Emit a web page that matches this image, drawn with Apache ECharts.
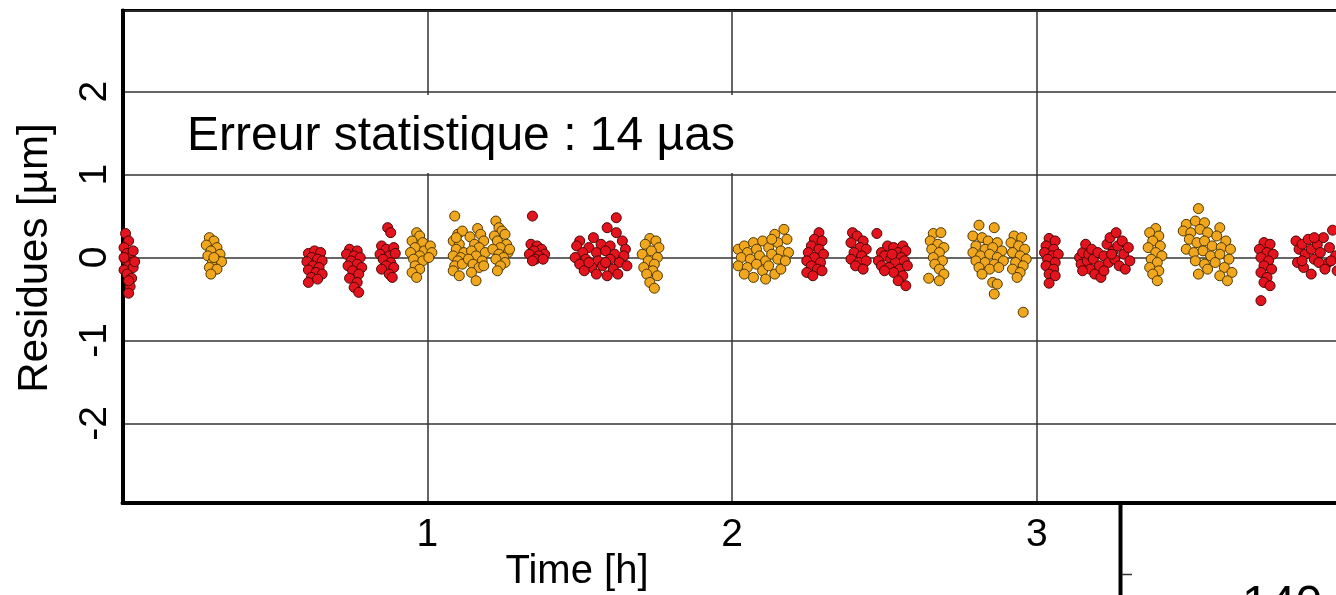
<!DOCTYPE html>
<html>
<head>
<meta charset="utf-8">
<script src="https://cdn.jsdelivr.net/npm/echarts@6/dist/echarts.min.js"></script>
<style>
html,body{margin:0;padding:0;background:#fff;}
#c{width:1336px;height:595px;}
</style>
</head>
<body>
<div id="c"></div>
<script>
// Residuals [µm] versus time [h]
const redResiduals = [
  // 0.00 - 0.05 h
  [0.01,0.29],[0.02,0.2],[0.005,0.12],[0.015,0.05],[0.025,0.0],[0.01,-0.03],[0.03,-0.06],[0.02,-0.1],[0.005,-0.15],[0.035,-0.12],[0.015,-0.2],[0.03,-0.25],[0.025,-0.35],[0.02,-0.43],[0.04,-0.05],[0.035,0.08],[0.005,0.0],[0.02,-0.28],
  // 0.60 - 0.66 h
  [0.61,0.05],[0.63,0.08],[0.65,0.06],[0.62,0.0],[0.64,-0.02],[0.605,-0.05],[0.655,-0.04],[0.625,-0.1],[0.645,-0.12],[0.61,-0.15],[0.635,-0.18],[0.655,-0.2],[0.62,-0.24],[0.61,-0.3],[0.64,-0.26],
  // 0.73 - 0.79 h
  [0.745,0.1],[0.77,0.08],[0.735,0.04],[0.76,0.02],[0.78,0.0],[0.75,-0.04],[0.77,-0.08],[0.74,-0.1],[0.785,-0.12],[0.755,-0.16],[0.775,-0.2],[0.745,-0.25],[0.77,-0.3],[0.76,-0.36],[0.775,-0.42],
  // 0.84 - 0.90 h
  [0.87,0.36],[0.88,0.3],[0.85,0.14],[0.865,0.1],[0.89,0.12],[0.845,0.04],[0.875,0.02],[0.895,0.05],[0.855,-0.02],[0.88,-0.06],[0.865,-0.1],[0.89,-0.12],[0.85,-0.14],[0.875,-0.2],[0.885,-0.24],
  // 1.33 - 1.40 h
  [1.345,0.5],[1.34,0.16],[1.36,0.14],[1.375,0.1],[1.35,0.08],[1.385,0.04],[1.335,0.04],[1.365,0.02],[1.355,-0.02],[1.38,-0.02],[1.345,-0.04],
  // 1.48 - 1.66 h
  [1.62,0.48],[1.59,0.36],[1.62,0.3],[1.545,0.24],[1.5,0.2],[1.64,0.2],[1.49,0.14],[1.53,0.12],[1.57,0.16],[1.6,0.14],[1.65,0.1],[1.51,0.06],[1.555,0.06],[1.585,0.08],[1.615,0.04],[1.645,0.02],[1.485,0.0],[1.52,-0.02],[1.56,-0.04],[1.6,-0.02],[1.63,-0.06],[1.5,-0.08],[1.54,-0.12],[1.575,-0.1],[1.61,-0.14],[1.655,-0.1],[1.515,-0.16],[1.555,-0.2],[1.59,-0.22],[1.625,-0.2],[1.53,-0.06],[1.585,-0.06],
  // 2.24 - 2.31 h
  [2.285,0.3],[2.27,0.22],[2.295,0.2],[2.26,0.14],[2.285,0.1],[2.25,0.06],[2.3,0.04],[2.27,0.0],[2.245,-0.04],[2.29,-0.06],[2.26,-0.1],[2.28,-0.14],[2.245,-0.18],[2.265,-0.22],[2.295,-0.16],
  // 2.38 - 2.45 h
  [2.395,0.3],[2.41,0.26],[2.43,0.2],[2.39,0.18],[2.42,0.12],[2.44,0.1],[2.4,0.06],[2.425,0.02],[2.39,-0.02],[2.415,-0.06],[2.44,-0.04],[2.405,-0.1],[2.43,-0.14],
  // 2.46 - 2.58 h
  [2.475,0.29],[2.49,0.06],[2.51,0.14],[2.53,0.12],[2.56,0.14],[2.545,0.06],[2.57,0.08],[2.5,0.02],[2.52,-0.02],[2.555,0.0],[2.48,-0.04],[2.535,-0.06],[2.565,-0.04],[2.49,-0.1],[2.515,-0.12],[2.55,-0.14],[2.575,-0.1],[2.53,-0.18],[2.56,-0.22],[2.5,-0.16],[2.545,-0.28],[2.57,-0.34],[2.525,0.04],
  // 3.02 - 3.08 h
  [3.04,0.23],[3.06,0.2],[3.03,0.14],[3.055,0.1],[3.025,0.06],[3.05,0.02],[3.07,0.04],[3.035,-0.02],[3.06,-0.06],[3.03,-0.1],[3.055,-0.14],[3.04,-0.2],[3.06,-0.22],[3.04,-0.31],
  // 3.13 - 3.31 h
  [3.14,0.0],[3.145,-0.08],[3.15,0.06],[3.16,0.16],[3.165,-0.04],[3.17,0.04],[3.175,-0.14],[3.18,0.1],[3.185,-0.02],[3.19,-0.2],[3.2,0.06],[3.205,-0.1],[3.21,-0.24],[3.22,0.02],[3.23,0.16],[3.235,-0.06],[3.24,0.24],[3.25,0.08],[3.255,-0.02],[3.26,0.3],[3.265,0.14],[3.27,-0.1],[3.28,0.2],[3.285,0.04],[3.29,-0.14],[3.3,0.12],[3.305,-0.04],[3.22,-0.16],[3.15,-0.16],[3.245,0.04],
  // 3.72 - 3.79 h
  [3.745,0.18],[3.765,0.16],[3.73,0.1],[3.755,0.06],[3.775,0.04],[3.735,0.0],[3.76,-0.04],[3.745,-0.1],[3.77,-0.14],[3.735,-0.18],[3.755,-0.24],[3.745,-0.3],[3.765,-0.34],[3.735,-0.52],
  // 3.84 h onward
  [3.85,0.2],[3.86,0.1],[3.87,0.16],[3.88,0.04],[3.89,0.22],[3.9,0.1],[3.91,-0.02],[3.92,0.16],[3.93,0.06],[3.94,0.24],[3.95,-0.08],[3.96,0.12],[3.97,0.33],[3.98,0.02],[3.855,-0.06],[3.875,-0.12],[3.9,-0.2],[3.925,-0.06],[3.945,-0.14],[3.965,-0.04],[3.985,-0.16],[3.87,-0.04],[3.91,0.24]
];

const goldResiduals = [
  // 0.27 - 0.33 h
  [0.285,0.24],[0.3,0.2],[0.275,0.15],[0.31,0.12],[0.29,0.08],[0.32,0.04],[0.28,0.02],[0.305,-0.02],[0.295,-0.06],[0.325,-0.05],[0.285,-0.12],[0.31,-0.14],[0.29,-0.2],[0.3,0.0],
  // 0.94 - 1.03 h
  [0.965,0.3],[0.975,0.26],[0.95,0.2],[0.985,0.18],[0.96,0.12],[0.99,0.08],[0.945,0.06],[0.975,0.02],[0.955,-0.02],[0.985,-0.04],[0.96,-0.1],[0.975,-0.14],[0.95,-0.18],[0.965,-0.24],[1.01,0.14],[1.015,0.06],[1.005,0.0],
  // 1.08 - 1.13 h
  [1.09,0.5],[1.1,0.28],[1.115,0.32],[1.085,0.2],[1.105,0.16],[1.095,0.1],[1.12,0.06],[1.085,0.02],[1.11,0.0],[1.1,-0.04],[1.09,-0.1],[1.115,-0.08],[1.085,-0.16],[1.105,-0.22],[1.095,0.24],
  // 1.13 - 1.20 h
  [1.165,0.35],[1.175,0.28],[1.14,0.25],[1.185,0.2],[1.155,0.16],[1.17,0.12],[1.145,0.08],[1.19,0.06],[1.16,0.02],[1.135,-0.02],[1.18,-0.04],[1.15,-0.08],[1.17,-0.12],[1.145,-0.18],[1.16,-0.28],[1.185,-0.1],
  // 1.21 - 1.28 h
  [1.225,0.44],[1.235,0.36],[1.245,0.32],[1.22,0.26],[1.255,0.28],[1.23,0.2],[1.26,0.16],[1.24,0.12],[1.215,0.1],[1.265,0.06],[1.235,0.04],[1.25,0.0],[1.225,-0.02],[1.255,-0.06],[1.24,-0.1],[1.23,-0.16],[1.27,0.1],
  // 1.70 - 1.77 h
  [1.73,0.23],[1.75,0.2],[1.715,0.16],[1.76,0.12],[1.735,0.08],[1.705,0.04],[1.755,0.0],[1.725,-0.04],[1.745,-0.08],[1.71,-0.12],[1.74,-0.16],[1.72,-0.2],[1.755,-0.22],[1.73,-0.3],[1.745,-0.37],
  // 2.00 - 2.19 h
  [2.02,0.1],[2.04,0.14],[2.05,0.06],[2.07,0.18],[2.08,0.1],[2.1,0.2],[2.12,0.12],[2.14,0.28],[2.15,0.18],[2.17,0.34],[2.18,0.22],[2.16,0.08],[2.03,0.0],[2.06,-0.02],[2.09,0.02],[2.11,-0.04],[2.13,0.04],[2.15,-0.02],[2.185,0.06],[2.02,-0.1],[2.05,-0.12],[2.08,-0.08],[2.1,-0.16],[2.12,-0.1],[2.14,-0.2],[2.16,-0.14],[2.04,-0.2],[2.07,-0.24],[2.11,-0.26],[2.175,-0.04],[2.13,0.22],
  // 2.64 - 2.70 h
  [2.66,0.29],[2.685,0.3],[2.65,0.2],[2.675,0.16],[2.695,0.12],[2.655,0.1],[2.68,0.06],[2.66,0.0],[2.69,-0.04],[2.665,-0.08],[2.68,-0.14],[2.695,-0.2],[2.645,-0.25],[2.68,-0.28],
  // 2.78 - 2.90 h
  [2.81,0.39],[2.86,0.36],[2.79,0.26],[2.82,0.24],[2.84,0.2],[2.87,0.18],[2.8,0.14],[2.83,0.1],[2.855,0.12],[2.885,0.08],[2.79,0.06],[2.815,0.02],[2.845,0.04],[2.87,0.0],[2.8,-0.04],[2.83,-0.06],[2.86,-0.08],[2.89,-0.04],[2.81,-0.12],[2.845,-0.14],[2.875,-0.12],[2.82,-0.2],[2.855,-0.3],[2.87,-0.32],[2.86,-0.44],
  // 2.91 - 2.97 h
  [2.925,0.26],[2.95,0.24],[2.915,0.18],[2.94,0.14],[2.96,0.1],[2.92,0.06],[2.945,0.02],[2.965,-0.02],[2.93,-0.06],[2.955,-0.1],[2.92,-0.14],[2.945,-0.18],[2.935,-0.24],[2.955,-0.66],
  // 3.36 - 3.42 h
  [3.39,0.35],[3.37,0.3],[3.4,0.26],[3.38,0.2],[3.405,0.14],[3.365,0.12],[3.39,0.06],[3.41,0.02],[3.375,-0.02],[3.395,-0.06],[3.37,-0.12],[3.4,-0.16],[3.38,-0.2],[3.395,-0.28],
  // 3.48 - 3.65 h
  [3.53,0.59],[3.49,0.4],[3.52,0.44],[3.55,0.42],[3.6,0.36],[3.48,0.32],[3.505,0.3],[3.535,0.34],[3.56,0.3],[3.59,0.26],[3.62,0.2],[3.5,0.22],[3.525,0.18],[3.55,0.2],[3.575,0.14],[3.605,0.12],[3.635,0.1],[3.49,0.1],[3.515,0.06],[3.545,0.08],[3.57,0.02],[3.6,0.04],[3.63,-0.02],[3.52,-0.04],[3.55,-0.08],[3.585,-0.06],[3.615,-0.12],[3.64,-0.18],[3.56,-0.14],[3.53,-0.2],[3.6,-0.22],[3.625,-0.28]
];

const xTickLabels = ['1', '2', '3'];
const annotationText = 'Erreur statistique : 14 µas';
const xAxisTitle = 'Time [h]';
const yAxisTitle = 'Residues [µm]';
const nextPanelLabel = '140';

const FONT = '"Liberation Sans", Arial, sans-serif';
const chart = echarts.init(document.getElementById('c'), null, {renderer: 'canvas'});

const option = {
  backgroundColor: '#ffffff',
  animation: false,
  grid: {
    left: 122.5, top: 10.5, width: 1371.6, height: 492.4,
    outerBoundsMode: 'none', containLabel: false,
    show: true, borderColor: '#000', borderWidth: 3, backgroundColor: 'transparent'
  },
  xAxis: {
    type: 'value', min: 0, max: 4.5, interval: 1,
    axisLine: {show: true, onZero: false, lineStyle: {color: '#000', width: 4}},
    axisTick: {show: false},
    axisLabel: {
      color: '#000', fontSize: 39, fontFamily: FONT, margin: 13,
      showMinLabel: false, showMaxLabel: false,
      formatter: v => (xTickLabels.indexOf(String(v)) >= 0 ? String(v) : '')
    },
    splitLine: {show: true, lineStyle: {color: '#333', width: 1.5}}
  },
  yAxis: {
    type: 'value', min: -2.96, max: 2.98, splitNumber: 5,
    axisLine: {show: true, onZero: false, lineStyle: {color: '#000', width: 4}},
    axisTick: {show: false},
    axisLabel: {
      color: '#000', fontSize: 39, fontFamily: FONT, margin: 8, rotate: 90,
      showMinLabel: false, showMaxLabel: false,
      formatter: v => (Number.isInteger(v) ? String(v) : '')
    },
    splitLine: {show: true, lineStyle: {color: '#333', width: 1.5}}
  },
  series: [
    {
      type: 'scatter', name: 'red', data: redResiduals, symbol: 'circle', symbolSize: 10,
      itemStyle: {color: '#e3141d', borderColor: '#4a0606', borderWidth: 1, opacity: 1}
    },
    {
      type: 'scatter', name: 'gold', data: goldResiduals, symbol: 'circle', symbolSize: 10,
      itemStyle: {color: '#f0a71d', borderColor: '#4e3800', borderWidth: 1, opacity: 1}
    }
  ],
  graphic: [
    {type: 'rect', z: 100, shape: {x: 165, y: 95, width: 600, height: 78}, style: {fill: '#fff'}},
    {type: 'text', z: 101, x: 187, y: 137, style: {text: annotationText, font: '48px ' + FONT, fill: '#000', textVerticalAlign: 'middle', verticalAlign: 'middle'}},
    {type: 'text', z: 101, x: 577, y: 572, style: {text: xAxisTitle, font: '40px ' + FONT, fill: '#000', align: 'center', verticalAlign: 'middle', textAlign: 'center', textVerticalAlign: 'middle'}},
    {type: 'text', z: 101, x: 35, y: 258, rotation: Math.PI / 2, style: {text: yAxisTitle, font: '42px ' + FONT, fill: '#000', align: 'center', verticalAlign: 'middle', textAlign: 'center', textVerticalAlign: 'middle'}},
    {type: 'line', z: 101, shape: {x1: 1120.5, y1: 502, x2: 1120.5, y2: 600}, style: {stroke: '#000', lineWidth: 4}},
    {type: 'line', z: 101, shape: {x1: 1122, y1: 574.5, x2: 1132, y2: 574.5}, style: {stroke: '#333', lineWidth: 1.5}},
    {type: 'text', z: 101, x: 1242, y: 606, style: {text: nextPanelLabel, font: '48px ' + FONT, fill: '#000', verticalAlign: 'middle', textVerticalAlign: 'middle'}}
  ]
};
chart.setOption(option);
</script>
</body>
</html>
